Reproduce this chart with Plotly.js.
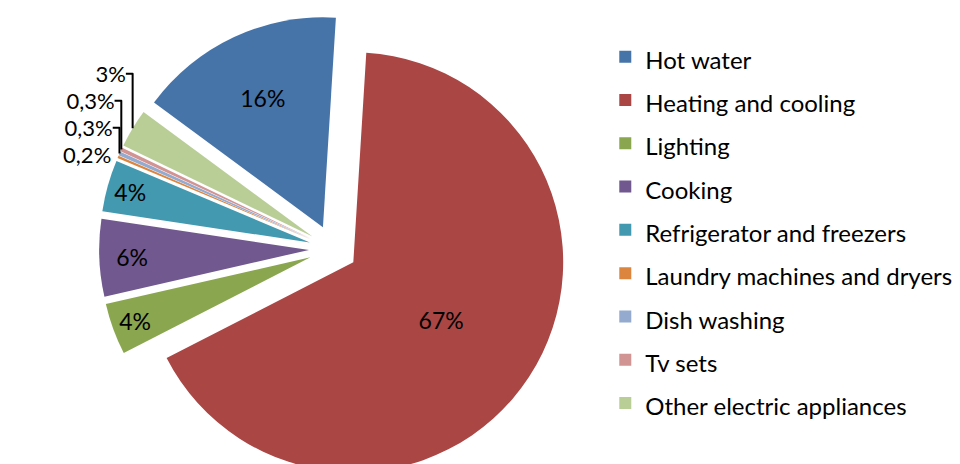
<!DOCTYPE html>
<html>
<head>
<meta charset="utf-8">
<script src="https://cdn.plot.ly/plotly-3.0.1.min.js"></script>
<style>
html,body{margin:0;padding:0;background:#fff;overflow:hidden;}
#wrap{width:960px;height:464px;overflow:hidden;}
</style>
</head>
<body>
<div id="wrap"><div id="chart"></div></div>
<script>
// Data
const categories = [
  "Hot water",
  "Heating and cooling",
  "Lighting",
  "Cooking",
  "Refrigerator and freezers",
  "Laundry machines and dryers",
  "Dish washing",
  "Tv sets",
  "Other electric appliances"
];
const shares = [16, 67, 4, 6, 4, 0.2, 0.3, 0.3, 3];

const colors = ["#4674A8","#AA4644","#8AA64F","#71588F","#4299B0","#DC853E","#94AACF","#D29393","#B9CE97"];
const textPos = ["inside","inside","inside","inside","inside","outside","outside","outside","outside"];

const legendLabels = categories.map(c => '<span style="font-size:24px">' + c + '</span>');

const trace = {
  type: "pie",
  labels: legendLabels,
  values: shares,
  sort: false,
  direction: "clockwise",
  rotation: -53.6,
  pull: 0.115,
  marker: {colors: colors, line: {width: 0}},
  texttemplate: "%{value}%",
  textinfo: "text",
  textposition: textPos,
  insidetextorientation: "horizontal",
  textfont: {family: "Lato, 'Open Sans', sans-serif", size: 23, color: "#000"},
  outsidetextfont: {family: "Lato, 'Open Sans', sans-serif", size: 22, color: "#000"},
  hoverinfo: "label+value",
  domain: {x: [0, 0.694], y: [0.034, 0.97]}
};

const layout = {
  width: 960,
  height: 500,
  margin: {l: 0, r: 0, t: 0, b: 0},
  paper_bgcolor: "#fff",
  separators: ", ",
  showlegend: true,
  legend: {
    x: 0.6305, xanchor: "left",
    y: 0.94, yanchor: "top",
    font: {family: "Lato, 'Open Sans', sans-serif", size: 31, color: "#000"},
    bgcolor: "rgba(0,0,0,0)"
  }
};

Plotly.newPlot("chart", [trace], layout, {displayModeBar: false, staticPlot: true});
</script>
</body>
</html>
